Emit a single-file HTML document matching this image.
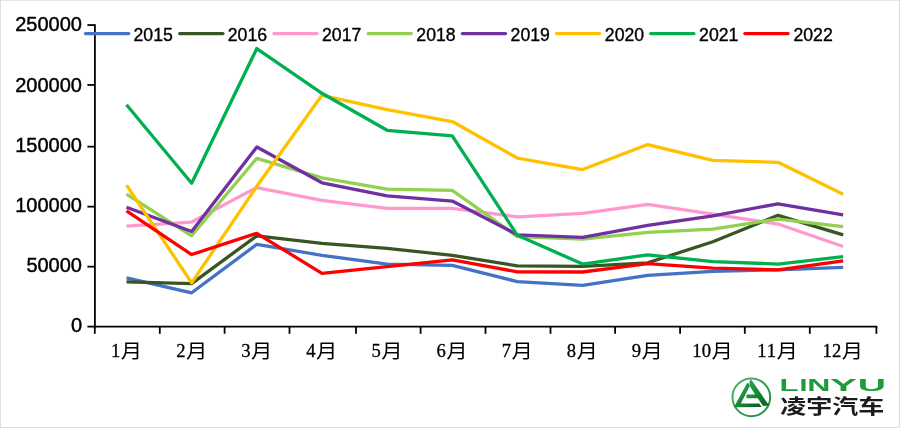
<!DOCTYPE html>
<html><head><meta charset="utf-8"><title>chart</title>
<style>
html,body{margin:0;padding:0;background:#fff;}
body{width:900px;height:428px;overflow:hidden;}
svg{display:block;}
.y{font-family:"Liberation Sans",sans-serif;font-size:20px;fill:#000;text-anchor:end;stroke:#000;stroke-width:0.45px;}
.l{font-family:"Liberation Sans",sans-serif;font-size:17.7px;fill:#000;stroke:#000;stroke-width:0.35px;}
.d{font-family:"Liberation Serif",serif;font-size:18.6px;fill:#000;text-anchor:middle;stroke:#000;stroke-width:0.3px;}
.m{font-family:"Liberation Sans","Noto Sans CJK SC","WenQuanYi Zen Hei",sans-serif;font-weight:400;font-size:21.4px;fill:#000;text-anchor:middle;}
</style></head><body>
<svg width="900" height="428" viewBox="0 0 900 428">
<rect x="0" y="0" width="900" height="428" fill="#fff"/>
<rect x="0" y="0" width="1" height="428" fill="#dfdfdf"/>
<rect x="0" y="0" width="900" height="0.8" fill="#dfdfdf"/>
<rect x="898.8" y="0" width="1.2" height="428" fill="#dfdfdf"/>
<rect x="0" y="427" width="898" height="1" fill="#dfdfdf"/>

<g stroke="#000" stroke-width="1.8" fill="none">
<path d="M94.9 24.150000000000002V327.5"/>
<path d="M94.0 326.6H877.3"/>
<path d="M87.4 326.60H94.9"/>
<path d="M87.4 266.65H94.9"/>
<path d="M87.4 206.65H94.9"/>
<path d="M87.4 146.65H94.9"/>
<path d="M87.4 84.95H94.9"/>
<path d="M87.4 25.05H94.9"/>
<path d="M94.80 326.6V333.8"/>
<path d="M159.80 326.6V333.8"/>
<path d="M224.60 326.6V333.8"/>
<path d="M289.50 326.6V333.8"/>
<path d="M356.00 326.6V333.8"/>
<path d="M420.60 326.6V333.8"/>
<path d="M485.50 326.6V333.8"/>
<path d="M550.50 326.6V333.8"/>
<path d="M615.10 326.6V333.8"/>
<path d="M680.10 326.6V333.8"/>
<path d="M744.80 326.6V333.8"/>
<path d="M809.80 326.6V333.8"/>
<path d="M876.40 326.6V333.8"/>
</g>
<text class="y" x="82" y="331.95">0</text>
<text class="y" x="82" y="272.05">50000</text>
<text class="y" x="82" y="212.10">100000</text>
<text class="y" x="82" y="151.90">150000</text>
<text class="y" x="82" y="91.80">200000</text>
<text class="y" x="82" y="30.70">250000</text>
<text class="d" x="115.70" y="356.6">1</text>
<text class="m" transform="translate(131.50 358.4) scale(1 0.9)">月</text>
<text class="d" x="180.80" y="356.6">2</text>
<text class="m" transform="translate(196.60 358.4) scale(1 0.9)">月</text>
<text class="d" x="245.90" y="356.6">3</text>
<text class="m" transform="translate(261.70 358.4) scale(1 0.9)">月</text>
<text class="d" x="311.00" y="356.6">4</text>
<text class="m" transform="translate(326.80 358.4) scale(1 0.9)">月</text>
<text class="d" x="376.10" y="356.6">5</text>
<text class="m" transform="translate(391.90 358.4) scale(1 0.9)">月</text>
<text class="d" x="441.20" y="356.6">6</text>
<text class="m" transform="translate(457.00 358.4) scale(1 0.9)">月</text>
<text class="d" x="506.30" y="356.6">7</text>
<text class="m" transform="translate(522.10 358.4) scale(1 0.9)">月</text>
<text class="d" x="571.40" y="356.6">8</text>
<text class="m" transform="translate(587.20 358.4) scale(1 0.9)">月</text>
<text class="d" x="636.50" y="356.6">9</text>
<text class="m" transform="translate(652.30 358.4) scale(1 0.9)">月</text>
<text class="d" x="696.85" y="356.6">1</text>
<text class="d" x="706.35" y="356.6">0</text>
<text class="m" transform="translate(722.15 358.4) scale(1 0.9)">月</text>
<text class="d" x="761.95" y="356.6">1</text>
<text class="d" x="771.45" y="356.6">1</text>
<text class="m" transform="translate(787.25 358.4) scale(1 0.9)">月</text>
<text class="d" x="827.05" y="356.6">1</text>
<text class="d" x="836.55" y="356.6">2</text>
<text class="m" transform="translate(852.35 358.4) scale(1 0.9)">月</text>
<polyline points="126.50,277.80 191.65,292.80 256.80,244.30 321.95,255.30 387.10,264.05 452.25,265.30 517.40,281.55 582.55,285.30 647.70,275.30 712.85,271.30 778.00,269.80 843.15,267.30" fill="none" stroke="#4472C4" stroke-width="3.3" stroke-linejoin="round" stroke-linecap="butt"/>
<polyline points="126.50,281.80 191.65,283.55 256.80,235.80 321.95,243.30 387.10,248.30 452.25,255.30 517.40,265.90 582.55,266.30 647.70,262.80 712.85,241.80 778.00,215.30 843.15,234.80" fill="none" stroke="#375623" stroke-width="3.3" stroke-linejoin="round" stroke-linecap="butt"/>
<polyline points="126.50,226.05 191.65,222.05 256.80,187.55 321.95,200.30 387.10,208.30 452.25,208.30 517.40,216.80 582.55,213.30 647.70,204.30 712.85,214.05 778.00,224.05 843.15,246.55" fill="none" stroke="#FF99CC" stroke-width="3.3" stroke-linejoin="round" stroke-linecap="butt"/>
<polyline points="126.50,194.05 191.65,235.80 256.80,158.30 321.95,177.80 387.10,189.05 452.25,190.30 517.40,236.55 582.55,239.05 647.70,232.30 712.85,229.05 778.00,219.05 843.15,226.55" fill="none" stroke="#92D050" stroke-width="3.3" stroke-linejoin="round" stroke-linecap="butt"/>
<polyline points="126.50,207.30 191.65,231.55 256.80,147.05 321.95,182.80 387.10,195.80 452.25,201.05 517.40,234.80 582.55,237.30 647.70,225.30 712.85,215.80 778.00,203.80 843.15,214.80" fill="none" stroke="#7030A0" stroke-width="3.3" stroke-linejoin="round" stroke-linecap="butt"/>
<polyline points="126.50,185.05 191.65,282.80 256.80,186.30 321.95,95.30 387.10,109.55 452.25,121.55 517.40,158.05 582.55,169.55 647.70,144.55 712.85,160.30 778.00,162.30 843.15,194.30" fill="none" stroke="#FFC000" stroke-width="3.3" stroke-linejoin="round" stroke-linecap="butt"/>
<polyline points="126.50,104.80 191.65,183.30 256.80,48.55 321.95,93.30 387.10,130.30 452.25,135.80 517.40,235.30 582.55,264.05 647.70,254.80 712.85,261.55 778.00,264.05 843.15,256.55" fill="none" stroke="#00B050" stroke-width="3.3" stroke-linejoin="round" stroke-linecap="butt"/>
<polyline points="126.50,210.80 191.65,254.55 256.80,233.30 321.95,273.30 387.10,266.55 452.25,259.80 517.40,271.90 582.55,272.00 647.70,263.55 712.85,268.05 778.00,269.80 843.15,260.80" fill="none" stroke="#FF0000" stroke-width="3.3" stroke-linejoin="round" stroke-linecap="butt"/>
<path d="M85.50 33.6H128.70" stroke="#4472C4" stroke-width="3.3" stroke-linecap="round" fill="none"/>
<text class="l" x="133.50" y="40.5">2015</text>
<path d="M179.70 33.6H222.90" stroke="#375623" stroke-width="3.3" stroke-linecap="round" fill="none"/>
<text class="l" x="227.77" y="40.5">2016</text>
<path d="M273.90 33.6H317.10" stroke="#FF99CC" stroke-width="3.3" stroke-linecap="round" fill="none"/>
<text class="l" x="322.04" y="40.5">2017</text>
<path d="M368.10 33.6H411.30" stroke="#92D050" stroke-width="3.3" stroke-linecap="round" fill="none"/>
<text class="l" x="416.31" y="40.5">2018</text>
<path d="M462.30 33.6H505.50" stroke="#7030A0" stroke-width="3.3" stroke-linecap="round" fill="none"/>
<text class="l" x="510.58" y="40.5">2019</text>
<path d="M556.50 33.6H599.70" stroke="#FFC000" stroke-width="3.3" stroke-linecap="round" fill="none"/>
<text class="l" x="604.85" y="40.5">2020</text>
<path d="M650.70 33.6H693.90" stroke="#00B050" stroke-width="3.3" stroke-linecap="round" fill="none"/>
<text class="l" x="699.12" y="40.5">2021</text>
<path d="M744.90 33.6H788.10" stroke="#FF0000" stroke-width="3.3" stroke-linecap="round" fill="none"/>
<text class="l" x="793.39" y="40.5">2022</text>
<g id="logo">
<defs>
<linearGradient id="lg" x1="0" y1="0" x2="1" y2="1"><stop offset="0" stop-color="#35a653"/><stop offset="0.5" stop-color="#168a35"/><stop offset="1" stop-color="#085a1f"/></linearGradient>
<linearGradient id="rg" x1="0" y1="0" x2="1" y2="1"><stop offset="0" stop-color="#52b26d"/><stop offset="0.5" stop-color="#2f9e4c"/><stop offset="1" stop-color="#1c8a3a"/></linearGradient>
</defs>
<g transform="translate(730 376) scale(0.0982)">
<circle cx="217" cy="217" r="192" fill="none" stroke="url(#rg)" stroke-width="20"/>
<path d="M40 318L170 80Q181 64 194 80L203 100L111 280L298 280L322 316Z" fill="url(#lg)"/>
<path d="M214 33L398 300L336 306L283 226L172 226Q158 207 172 188L256 188L204 108L197 62Z" fill="url(#lg)"/>
</g>
<g style="font-family:'Liberation Sans',sans-serif;font-weight:bold;font-size:17.4px;fill:#1f9a3c"><text transform="translate(779.52 390.6) scale(1.792 1)">L</text><text transform="translate(799.50 390.6) scale(1.642 1)">I</text><text transform="translate(807.26 390.6) scale(1.843 1)">N</text><text transform="translate(829.99 390.6) scale(2.317 1)">Y</text><text transform="translate(857.85 390.6) scale(2.251 1)">U</text></g>
<text x="780.3" y="414.2" textLength="104" lengthAdjust="spacingAndGlyphs" style="font-family:'Liberation Sans','Noto Sans CJK SC',sans-serif;font-weight:bold;font-size:20.5px;fill:#1c1c1c">凌宇汽车</text>
</g>

</svg></body></html>
